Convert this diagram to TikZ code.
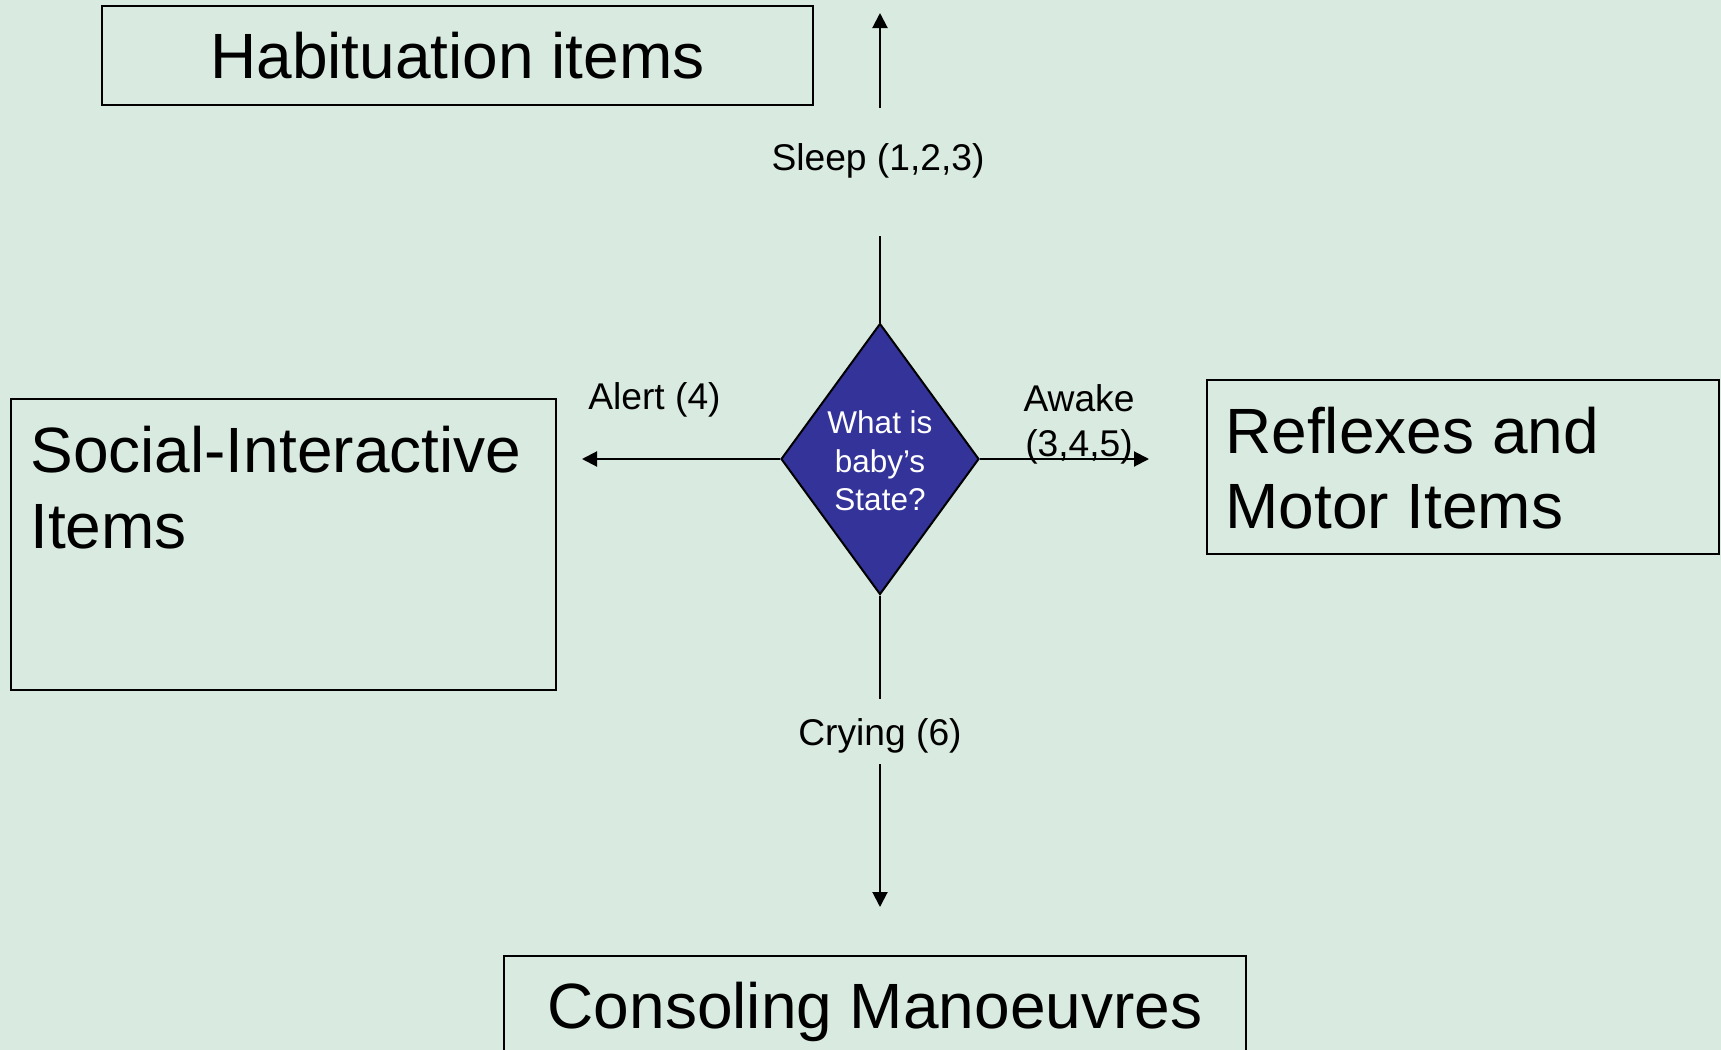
\documentclass[tikz,border=0pt]{standalone}
\usepackage{fontspec}
\setmainfont{Liberation Sans}
\usetikzlibrary{shapes.geometric,arrows.meta}
\definecolor{bg}{RGB}{217,234,224}
\definecolor{dia}{RGB}{51,51,153}
\begin{document}
\begin{tikzpicture}[x=0.5pt,y=-0.5pt,
  box/.style={draw=black, line width=1pt, inner sep=0pt},
  big/.style={font=\fontsize{32}{38}\selectfont},
  small/.style={font=\fontsize{18.6}{22.5}\selectfont},
  conn/.style={line width=1pt, draw=black},
  arr/.style={conn, -{Triangle[length=7.5pt,width=7.5pt]}}]
\fill[bg] (0,0) rectangle (1721,1050);
\clip (0,0) rectangle (1721,1050);
% boxes
\node[box, big, minimum width=355.5pt, minimum height=49.5pt, text height=23pt, text depth=0pt] (hab) at (457.5,55.5) {Habituation items};
\node[box, big, minimum width=370.75pt, minimum height=49.5pt, text height=23pt, text depth=0pt] (cons) at (875,1005.5) {Consoling Manoeuvres};
\node[box, minimum width=272.6pt, minimum height=145.5pt] (soc) at (283.4,544.5) {};
\node[big, anchor=base west, inner sep=0pt] (soc1) at (30,472) {Social-Interactive};
\node[big, anchor=base west, inner sep=0pt] (soc2) at (30,548) {Items};
\node[box, minimum width=256pt, minimum height=87pt] (ref) at (1463,467) {};
\node[big, anchor=base west, inner sep=0pt] (ref1) at (1225,453) {Reflexes and};
\node[big, anchor=base west, inner sep=0pt] (ref2) at (1225,528) {Motor Items};
% decision
\node[diamond, draw=black, line width=1pt, fill=dia, minimum width=99pt, minimum height=135.5pt, inner sep=0pt] (state) at (880,459) {};
\node[text=white, font=\fontsize{15.75}{19.25}\selectfont, align=center, inner sep=0pt] (q) at (880,461) {What is\\baby’s\\State?};
% coordinates
\coordinate (s1) at (880,236);
\coordinate (s2) at (880,108);
\coordinate (habtip) at (880,13);
\coordinate (c1) at (880,699);
\coordinate (c2) at (880,764);
\coordinate (constip) at (880,907);
\coordinate (soctip) at (582,459);
\coordinate (reftip) at (1149,459);
% connectors
\draw[conn] (state.north) -- (s1);
\draw[arr] (s2) -- (habtip);
\draw[conn] (state.south) -- (c1);
\draw[arr] (c2) -- (constip);
\draw[arr] (state.west) -- (soctip);
\draw[arr] (state.east) -- (reftip);
% labels
\node[small, anchor=base, inner sep=0pt] (sleep) at (878,170) {Sleep (1,2,3)};
\node[small, anchor=base, inner sep=0pt] (alert) at (654.5,409) {Alert (4)};
\node[small, align=center, inner sep=0pt] (awake) at (1079,424) {Awake\\(3,4,5)};
\node[small, anchor=base, inner sep=0pt] (cry) at (880,745) {Crying (6)};
\end{tikzpicture}
\end{document}
